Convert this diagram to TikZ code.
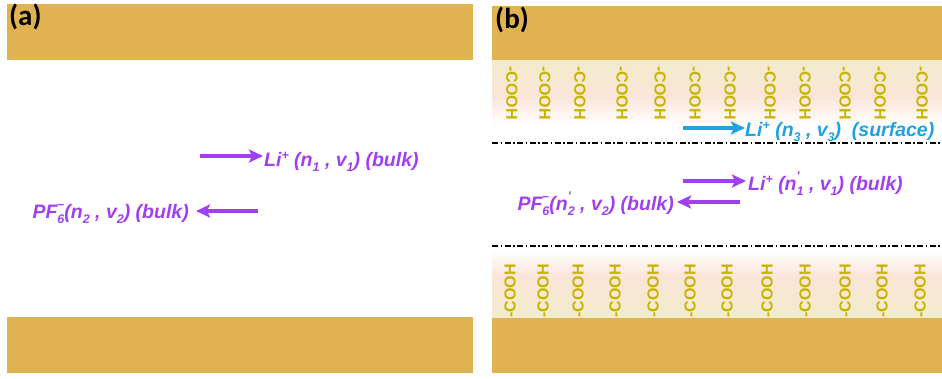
\documentclass[tikz,border=0pt]{standalone}
\usepackage{fontspec}
\setmainfont{Liberation Sans}
\newfontfamily\calib{Carlito}
\usetikzlibrary{arrows.meta}
\definecolor{gold}{HTML}{E1B350}
\definecolor{paleyel}{HTML}{F1ECCB}
\definecolor{peach}{HTML}{FAE5D8}
\definecolor{coohcol}{HTML}{C8B400}
\definecolor{ionpurple}{HTML}{A040F0}
\definecolor{ioncyan}{HTML}{1FA3E0}
\newcommand{\stk}[2]{\rlap{\raisebox{0.5em}{\fontsize{12.5}{12.5}\selectfont #1}}\raisebox{-0.28em}{\fontsize{12.5}{12.5}\selectfont #2}}
\newcommand{\sbs}[1]{\raisebox{-0.28em}{\fontsize{12.5}{12.5}\selectfont #1}}
\newcommand{\sps}[1]{\raisebox{0.33em}{\fontsize{12.5}{12.5}\selectfont #1}}
\begin{document}
\begin{tikzpicture}[x=1pt,y=-1pt,
  bar/.style={fill=gold},
  cooh/.style={font=\fontsize{16}{16}\selectfont\bfseries, text=coohcol, inner sep=0pt},
  panellabel/.style={font=\calib\fontsize{29}{29}\selectfont\bfseries, inner sep=0pt, anchor=base west},
  ionlabel/.style={font=\fontsize{19.5}{19.5}\selectfont\bfseries\itshape, inner sep=0pt},
  ionarrow/.style={line width=3.6pt, -{Stealth[length=14pt,width=13pt,inset=3pt]}},
  divider/.style={line width=1.4pt, dash pattern=on 6pt off 2.5pt on 1.5pt off 2.5pt}
]
\useasboundingbox (0,0) rectangle (942,378);
\fill[white] (0,0) rectangle (942,378);

% ---------- panel (a) ----------
\fill[bar] (7,4) rectangle (473,60);
\fill[bar] (7,317) rectangle (473,373);
\node[panellabel] (la) at (9,25) {(a)};

\coordinate (aLs) at (200,156);
\coordinate (aLe) at (263,156);
\draw[ionarrow, ionpurple] (aLs) -- (aLe);
\node[ionlabel, text=ionpurple, anchor=base west] (aLi) at (264,166)
  {Li\sps{+} (n\sbs{1} , v\sbs{1}) (bulk)};

\coordinate (aPs) at (258,211);
\coordinate (aPe) at (196,211);
\draw[ionarrow, ionpurple] (aPs) -- (aPe);
\node[ionlabel, text=ionpurple, anchor=base east] (aPF) at (189,218)
  {PF\stk{--}{6}(n\sbs{2} , v\sbs{2}) (bulk)};

% ---------- panel (b) ----------
\shade[top color=paleyel, bottom color=peach] (492,59) rectangle (942,96);
\shade[top color=peach, bottom color=white] (492,95.5) rectangle (942,126);
\shade[top color=white, bottom color=peach] (492,250) rectangle (942,276.5);
\shade[top color=peach, bottom color=paleyel] (492,276) rectangle (942,319);
\fill[bar] (492,6) rectangle (942,60);
\fill[bar] (492,318) rectangle (942,373);
\node[panellabel] (lb) at (495,28) {(b)};

\foreach \x in {512,545,580,622,660,695,730,770,805,845,880,922}
  \node[cooh, rotate=-90] at (\x,93) {-COOH};
\foreach \x in {510,543,578,615,653,690,727,767,805,845,882,920}
  \node[cooh, rotate=90] at (\x,291) {-COOH};

\coordinate (d1s) at (492,143);
\coordinate (d1e) at (942,143);
\coordinate (d2s) at (492,246);
\coordinate (d2e) at (942,246);
\draw[divider] (d1s) -- (d1e);
\draw[divider] (d2s) -- (d2e);

\coordinate (bSs) at (683,128);
\coordinate (bSe) at (745,128);
\draw[ionarrow, ioncyan] (bSs) -- (bSe);
\node[ionlabel, text=ioncyan, anchor=base west] (bSurf) at (745,136)
  {Li\sps{+} (n\sbs{3} , v\sbs{3})\ \ (surface)};

\coordinate (bLs) at (683,181);
\coordinate (bLe) at (746,181);
\draw[ionarrow, ionpurple] (bLs) -- (bLe);
\node[ionlabel, text=ionpurple, anchor=base west] (bLi) at (748,190)
  {Li\sps{+} (n\stk{\textquotesingle}{1} , v\sbs{1}) (bulk)};

\coordinate (bPs) at (740,202);
\coordinate (bPe) at (677,202);
\draw[ionarrow, ionpurple] (bPs) -- (bPe);
\node[ionlabel, text=ionpurple, anchor=base east] (bPF) at (674,210)
  {PF\stk{--}{6}(n\stk{\textquotesingle}{2} , v\sbs{2}) (bulk)};
\end{tikzpicture}
\end{document}
